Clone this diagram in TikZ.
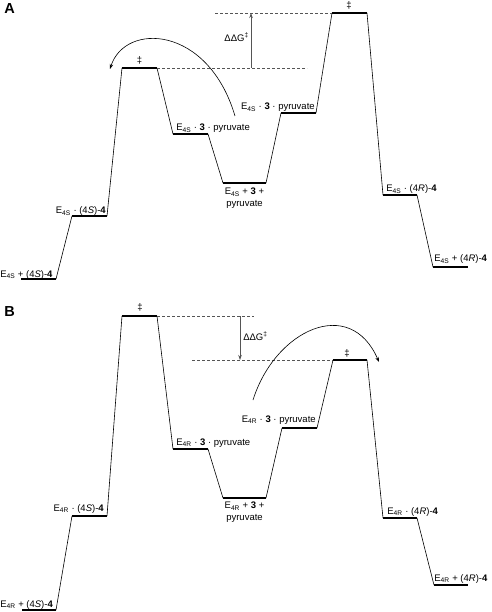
\documentclass[tikz,border=0pt]{standalone}
\usepackage{fontspec}
\setmainfont{Liberation Sans}
\usetikzlibrary{arrows.meta}
\definecolor{cgrey}{HTML}{555555}
\tikzset{
  every picture/.style={font=\fontsize{9.5}{11.5}\selectfont, line width=0.6pt},
  level/.style={line width=2.4pt},
  link/.style={line width=0.6pt},
  guide/.style={draw=cgrey, line width=0.5pt, dash pattern=on 3pt off 2pt},
  gap/.style={-{Stealth[length=5pt, width=3.5pt]}, draw=cgrey, line width=0.6pt},
  swing/.style={-{Stealth[length=5pt, width=3.5pt]}, line width=0.6pt},
  lab/.style={inner sep=0pt},
  panel/.style={font=\fontsize{14.5}{16}\selectfont\bfseries},
}
\newcommand{\Es}{E\textsubscript{4S}}
\newcommand{\Er}{E\textsubscript{4R}}

\begin{document}
\begin{tikzpicture}[x=1pt, y=-1pt]
  \useasboundingbox (0,0) rectangle (491,612);

  % panel A
  \node[panel] (pa) at (9.5,9) {A};
  \foreach \n/\xl/\xr/\y in {1/21/56/279, 2/72/107/216, 3/122/157/68, 4/173/208/134, 5/223/266/183,
                             6/281/316/113, 7/332/367/13, 8/383/417/195, 9/433/468/267}{
    \coordinate (a\n l) at (\xl,\y);
    \coordinate (a\n r) at (\xr,\y);
    \draw[level] (a\n l) -- (a\n r);
  }
  \foreach \i/\j in {1/2, 2/3, 3/4, 4/5, 5/6, 6/7, 7/8, 8/9}
    \draw[link] (a\i r) -- (a\j l);
  \coordinate (aMid) at (307,68);
  \coordinate (aTop) at (215,13);
  \coordinate (aGap) at (251,0);
  \draw[guide] (a3r) -- (aMid);
  \draw[guide] (aTop) -- (a7l);
  \draw[gap] (aGap |- a3r) -- (aGap |- a7l);
  \node[lab, anchor=east] (addg) at (249,37) {\fontsize{9.5}{11}\selectfont ΔΔG\textsuperscript{‡}};
  \coordinate (aFrom) at (235,116);
  \coordinate (aTo) at (110,69);
  \draw[swing] (aFrom) .. controls (208,25) and (125,22) .. (aTo);

  \node[lab, anchor=base west] (a1t) at (0,277) {\Es{} + (4\textit{S})-\textbf{4}};
  \node[lab, anchor=base east] (a2t) at (106,213.5) {\Es{} · (4\textit{S})-\textbf{4}};
  \node[lab] (a3t) at (139.5,60) {‡};
  \node[lab, anchor=base west] (a4t) at (176,130.5) {\Es{} · \textbf{3} · pyruvate};
  \node[lab, anchor=north, align=center] (a5t) at (244.5,188) {\Es{} + \textbf{3} +\\pyruvate};
  \node[lab, anchor=base east] (a6t) at (315,109.5) {\Es{} · \textbf{3} · pyruvate};
  \node[lab] (a7t) at (349,5) {‡};
  \node[lab, anchor=base west] (a8t) at (386,191.5) {\Es{} · (4\textit{R})-\textbf{4}};
  \node[lab, anchor=base west] (a9t) at (434,261.5) {\Es{} + (4\textit{R})-\textbf{4}};

  % panel B
  \node[panel] (pb) at (9.5,312) {B};
  \foreach \n/\xl/\xr/\y in {1/22/56/610, 2/72/107/516, 3/122/157/316, 4/173/208/449, 5/223/266/498,
                             6/282/317/428, 7/333/367/360, 8/383/417/518, 9/434/468/585}{
    \coordinate (b\n l) at (\xl,\y);
    \coordinate (b\n r) at (\xr,\y);
    \draw[level] (b\n l) -- (b\n r);
  }
  \foreach \i/\j in {1/2, 2/3, 3/4, 4/5, 5/6, 6/7, 7/8, 8/9}
    \draw[link] (b\i r) -- (b\j l);
  \coordinate (bMid) at (254,316);
  \coordinate (bLow) at (192,360);
  \coordinate (bGap) at (240,0);
  \draw[guide] (b3r) -- (bMid);
  \draw[guide] (bLow) -- (b7l);
  \draw[gap] (bGap |- b3r) -- (bGap |- b7l);
  \node[lab, anchor=west] (bddg) at (243,336) {\fontsize{9.5}{11}\selectfont ΔΔG\textsuperscript{‡}};
  \coordinate (bFrom) at (253,400);
  \coordinate (bTo) at (379,362);
  \draw[swing] (bFrom) .. controls (275,330) and (350,295) .. (bTo);

  \node[lab, anchor=base west] (b1t) at (0,607.5) {\Er{} + (4\textit{S})-\textbf{4}};
  \node[lab, anchor=base east] (b2t) at (104,511.5) {\Er{} · (4\textit{S})-\textbf{4}};
  \node[lab] (b3t) at (140,307) {‡};
  \node[lab, anchor=base west] (b4t) at (176,445.5) {\Er{} · \textbf{3} · pyruvate};
  \node[lab, anchor=north, align=center] (b5t) at (244.5,502) {\Er{} + \textbf{3} +\\pyruvate};
  \node[lab, anchor=base east] (b6t) at (316,422.5) {\Er{} · \textbf{3} · pyruvate};
  \node[lab] (b7t) at (347,353) {‡};
  \node[lab, anchor=base west] (b8t) at (387,514.5) {\Er{} · (4\textit{R})-\textbf{4}};
  \node[lab, anchor=base west] (b9t) at (434,581.5) {\Er{} + (4\textit{R})-\textbf{4}};
\end{tikzpicture}
\end{document}
